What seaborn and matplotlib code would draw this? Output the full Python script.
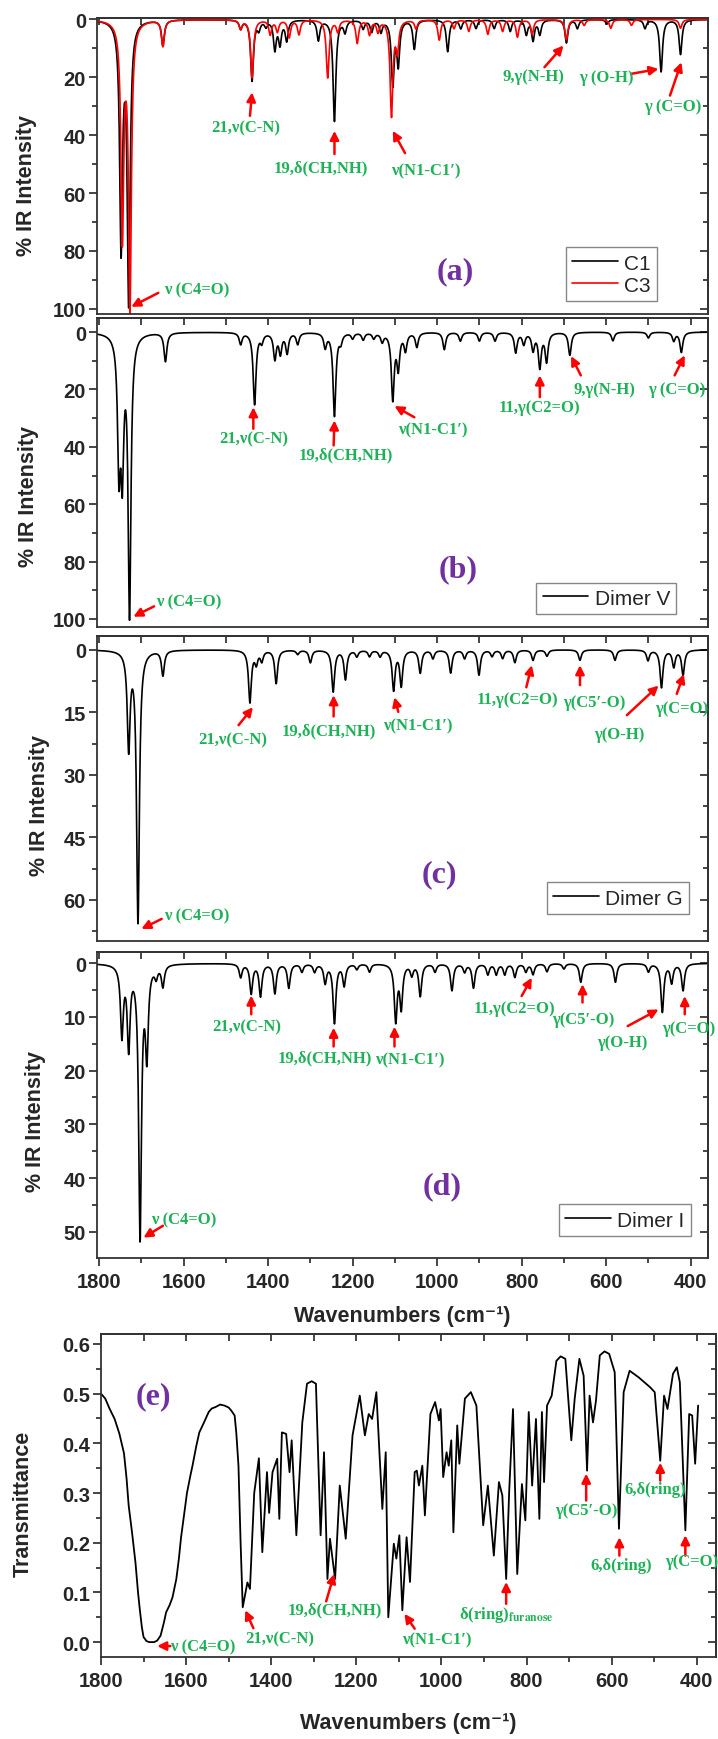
import numpy as np
import pandas as pd
import seaborn as sns
import matplotlib.pyplot as plt
from matplotlib.ticker import MultipleLocator, FormatStrFormatter

sns.set_style('ticks')
plt.rcParams['font.family'] = ['Liberation Sans', 'DejaVu Sans']
plt.rcParams['font.weight'] = 'bold'

GREEN = '#1DB257'
PURPLE = '#7030A0'
SERIF = ['Liberation Serif', 'DejaVu Serif']
FWHM = 8.0

# ---- calculated spectra: peak tables (wavenumber, % intensity)
c1_pos = [1748, 1730, 1649, 1465, 1438, 1422, 1405, 1384, 1372, 1356, 1281, 1243, 1218, 1175, 1155,
          1133, 1105, 1092, 1054, 975, 944, 908, 865, 827, 789, 773, 757, 694, 668, 598, 508, 470, 424]
c1_int = [78, 96, 9, 3, 21, 3, 2, 10, 8, 7, 7, 35, 4, 3, 4,
          4, 22, 15, 10, 11, 3, 3, 3, 4, 5, 7, 5, 8, 3, 1.5, 3, 18, 12]

c3_pos = [1745, 1727, 1649, 1465, 1438, 1395, 1378, 1350, 1327, 1259, 1235, 1189, 1160, 1140, 1108,
          1094, 1050, 995, 960, 925, 880, 845, 810, 775, 694, 652, 589, 540, 424]
c3_int = [74, 98, 9, 3, 20, 5, 4, 6, 5, 20, 4, 8, 5, 4, 33,
          10, 3, 7, 3, 4, 5, 4, 6, 5, 7, 2, 3, 2, 3]

dv_pos = [1753, 1745, 1728, 1643, 1465, 1432, 1415, 1384, 1371, 1355, 1330, 1265, 1243, 1228, 1200,
          1175, 1150, 1130, 1105, 1092, 1075, 1048, 983, 945, 900, 863, 814, 795, 773, 757, 741,
          686, 584, 500, 440, 422]
dv_int = [44, 44, 97, 10, 4, 25, 3, 9, 7, 7, 4, 5, 29, 3, 2,
          2.5, 2, 3, 23, 12, 6, 5, 6, 3, 3, 3, 7, 4, 6, 12, 10,
          8, 3, 2, 3, 7]

dg_pos = [1730, 1708, 1649, 1443, 1428, 1415, 1381, 1330, 1300, 1246, 1217, 1190, 1160, 1135, 1103,
          1085, 1040, 1010, 968, 935, 901, 870, 845, 816, 773, 740, 662, 579, 501, 469, 440, 418]
dg_int = [23, 65, 6, 12.5, 3, 2.5, 8, 1, 3, 10, 7, 1.5, 1.5, 1.5, 9.5,
          8.5, 5.5, 2, 5.5, 2, 6, 1.5, 2, 3, 2.5, 1.5, 2.5, 2.5, 2.5, 9, 4, 6]

di_pos = [1746, 1730, 1703, 1687, 1665, 1649, 1465, 1440, 1418, 1384, 1351, 1320, 1290, 1265, 1243,
          1220, 1190, 1160, 1098, 1085, 1060, 1040, 1005, 965, 935, 914, 880, 860, 840, 816, 790,
          773, 740, 700, 660, 578, 500, 467, 445, 418]
di_int = [13, 15, 50.5, 16, 2, 4, 2.5, 5.5, 6, 5.5, 4.5, 1.5, 1.5, 3.5, 11,
          4, 1, 1.5, 10.5, 8, 2, 6, 1.5, 5, 1.5, 4.5, 2, 2, 2, 2.5, 1.5,
          2, 1.5, 1, 3.5, 3.5, 1.5, 9, 3.5, 5]

# ---- experimental spectrum (e): wavenumber / transmittance
e_wave = [1800, 1790, 1780, 1768, 1757, 1746, 1740, 1735, 1727, 1719, 1713, 1709, 1704, 1700, 1693,
          1687, 1675, 1668, 1660, 1652, 1647, 1639, 1632, 1623, 1617, 1612, 1606, 1598, 1590, 1585,
          1576, 1569, 1558, 1547, 1540, 1531, 1520, 1510, 1500, 1494, 1486, 1482, 1477, 1472, 1467,
          1456, 1450, 1440, 1429, 1421, 1410, 1405, 1397, 1386, 1381, 1375, 1365, 1357, 1352, 1341,
          1327, 1316, 1305, 1295, 1284, 1276, 1268, 1262, 1250, 1239, 1225, 1209, 1192, 1180, 1171,
          1163, 1153, 1139, 1131, 1125, 1112, 1106, 1099, 1092, 1082, 1074, 1063, 1058, 1053, 1045,
          1039, 1026, 1015, 1006, 1002, 996, 988, 983, 977, 972, 963, 958, 945, 931, 918,
          911, 902, 891, 877, 865, 857, 848, 841, 832, 822, 811, 803, 795, 787, 778,
          770, 764, 759, 752, 741, 730, 720, 709, 695, 687, 676, 666, 658, 652, 644,
          637, 628, 617, 606, 593, 583, 572, 558, 537, 510, 499, 486, 477, 469, 456,
          447, 440, 427, 418, 411, 404, 397]
e_trans = [0.50, 0.49, 0.47, 0.449, 0.42, 0.38, 0.33, 0.275, 0.22, 0.16, 0.10, 0.067, 0.03, 0.01, 0.002,
           0.0, 0.0, 0.003, 0.013, 0.04, 0.06, 0.074, 0.09, 0.127, 0.168, 0.21, 0.248, 0.30, 0.335, 0.355,
           0.395, 0.422, 0.442, 0.463, 0.47, 0.473, 0.478, 0.476, 0.472, 0.466, 0.456, 0.42, 0.355, 0.2, 0.07,
           0.12, 0.107, 0.30, 0.37, 0.181, 0.342, 0.26, 0.342, 0.369, 0.248, 0.422, 0.419, 0.342, 0.406, 0.215,
           0.442, 0.52, 0.525, 0.52, 0.215, 0.382, 0.127, 0.208, 0.127, 0.315, 0.208, 0.416, 0.496, 0.416, 0.459,
           0.449, 0.503, 0.268, 0.382, 0.05, 0.198, 0.168, 0.215, 0.064, 0.211, 0.121, 0.342, 0.345, 0.315, 0.355,
           0.255, 0.459, 0.483, 0.446, 0.469, 0.332, 0.382, 0.355, 0.406, 0.221, 0.436, 0.359, 0.49, 0.503, 0.476,
           0.369, 0.235, 0.315, 0.174, 0.322, 0.295, 0.127, 0.302, 0.469, 0.137, 0.318, 0.245, 0.463, 0.315, 0.449,
           0.248, 0.463, 0.322, 0.476, 0.496, 0.566, 0.575, 0.57, 0.406, 0.49, 0.57, 0.536, 0.345, 0.496, 0.442,
           0.486, 0.577, 0.585, 0.58, 0.543, 0.228, 0.503, 0.546, 0.533, 0.513, 0.503, 0.365, 0.496, 0.469, 0.54,
           0.553, 0.523, 0.225, 0.459, 0.456, 0.359, 0.476]

grid = np.arange(350, 1810.5, 0.5)


def broaden(pos, amp, fwhm=FWHM):
    # lorentzian broadening of a stick spectrum (as the calculated spectra are drawn)
    hw = fwhm / 2
    y = np.zeros_like(grid)
    for p, a in zip(pos, amp):
        y += a / (1 + ((grid - p) / hw) ** 2)
    return y


W, H = 718, 1740


def box(l, t, r, b):
    return [l / W, 1 - b / H, (r - l) / W, (b - t) / H]


def style_axes(ax, ymajor, yminor, xlab=False):
    for s in ax.spines.values():
        s.set_color('#333333')
        s.set_linewidth(1.3)
    ax.xaxis.set_major_locator(MultipleLocator(200))
    ax.xaxis.set_minor_locator(MultipleLocator(100))
    ax.yaxis.set_major_locator(MultipleLocator(ymajor))
    ax.yaxis.set_minor_locator(MultipleLocator(yminor))
    ax.tick_params(which='major', direction='out', length=6, width=1.2, labelsize=14.5, pad=2)
    ax.tick_params(axis='x', which='major', pad=4)
    ax.tick_params(which='minor', direction='out', length=3.5, width=1.2)
    if not xlab:
        ax.tick_params(axis='x', which='both', bottom=False, labelbottom=False)
    top = ax.secondary_xaxis('top')
    top.xaxis.set_major_locator(MultipleLocator(100))
    top.tick_params(direction='in', length=5, width=1.2, labeltop=False)
    right = ax.secondary_yaxis('right')
    right.yaxis.set_major_locator(MultipleLocator(ymajor))
    right.yaxis.set_minor_locator(MultipleLocator(yminor))
    right.tick_params(which='major', direction='in', length=6, width=1.2, labelright=False)
    right.tick_params(which='minor', direction='in', length=3.5, width=1.2)
    for sa in (top, right):
        for s in sa.spines.values():
            s.set_color('#333333')
            s.set_linewidth(1.3)
    for lbl in ax.get_xticklabels() + ax.get_yticklabels():
        lbl.set_fontweight('bold')


def annotate(ax, items):
    for label, txt, tail, head in items:
        ax.annotate('', xy=head, xytext=tail,
                    arrowprops=dict(arrowstyle='-|>', color='red', lw=1.8,
                                    mutation_scale=13, shrinkA=0, shrinkB=0))
        ax.text(txt[0], txt[1], label, color=GREEN, fontsize=12, fontweight='bold',
                family=SERIF, ha='center', va='center', math_fontfamily='stix')


def legend(ax, anchor):
    ax.legend(loc='lower right', bbox_to_anchor=anchor, frameon=True, fancybox=False,
              edgecolor='#888888', framealpha=1,
              prop={'family': 'Liberation Sans', 'size': 15, 'weight': 'normal'},
              handlelength=2.2, borderpad=0.3, labelspacing=0.15, handletextpad=0.3,
              borderaxespad=0)


def ylab(ax, text, x, y):
    ax.set_ylabel(text, fontsize=15.5, fontweight='bold')
    ax.yaxis.set_label_coords(x, y)


fig = plt.figure(figsize=(7.18, 17.40), dpi=100)
XLIM = (1805, 359)

# ---------------- (a)
ax = fig.add_axes(box(97, 19, 708, 315))
sns.lineplot(x=grid, y=broaden(c1_pos, c1_int), ax=ax, color='black', lw=1.2, label='C1', estimator=None)
sns.lineplot(x=grid, y=broaden(c3_pos, c3_int), ax=ax, color='red', lw=1.2, label='C3', estimator=None)
ax.set_xlim(*XLIM)
ax.set_ylim(101.8, -0.5)
style_axes(ax, 20, 10)
annotate(ax, [
    ('ν (C4=O)', (1568, 93.3), (1660, 94.5), (1724, 99.3)),
    ('21,ν(C-N)', (1454, 37.3), (1443, 33.3), (1438, 25.2)),
    ('19,δ(CH,NH)', (1276, 51.2), (1243, 46.5), (1243, 38.5)),
    ('ν(N1-C1′)', (1027, 52.3), (1076, 46.2), (1105, 38.5)),
    ('9,γ(N-H)', (773, 19.6), (746, 16.5), (701, 9)),
    ('γ (O-H)', (600, 20), (541, 18.8), (476, 17.1)),
    ('γ (C=O)', (443, 29.8), (449, 26.3), (422, 14.8)),
])
ax.text(957, 87, '(a)', color=PURPLE, fontsize=23, family=SERIF, fontweight='bold', ha='center', va='center')
legend(ax, (0.917, 0.044))
ax.set_xlabel('')
ylab(ax, '% IR Intensity', -0.098, 0.436)

# ---------------- (b)
ax = fig.add_axes(box(97, 319, 708, 628))
sns.lineplot(x=grid, y=broaden(dv_pos, dv_int), ax=ax, color='black', lw=1.2, label='Dimer V', estimator=None)
ax.set_xlim(*XLIM)
ax.set_ylim(102.8, -4.9)
style_axes(ax, 20, 10)
annotate(ax, [
    ('ν (C4=O)', (1589, 94), (1670, 95.6), (1719, 99.2)),
    ('21,ν(C-N)', (1435, 37.2), (1435, 33.7), (1435, 26.2)),
    ('19,δ(CH,NH)', (1216, 42.8), (1245, 39.5), (1243, 30.8)),
    ('ν(N1-C1′)', (1011, 34), (1054, 29.7), (1101, 25.8)),
    ('11,γ(C2=O)', (759, 26.2), (757, 22.7), (757, 15.1)),
    ('9,γ(N-H)', (605, 20), (660, 15.1), (683, 8.4)),
    ('γ (C=O)', (433, 19.8), (438, 15.1), (414, 8.1)),
])
ax.text(951, 82.6, '(b)', color=PURPLE, fontsize=23, family=SERIF, fontweight='bold', ha='center', va='center')
legend(ax, (0.948, 0.042))
ax.set_xlabel('')
ylab(ax, '% IR Intensity', -0.095, 0.424)

# ---------------- (c)
ax = fig.add_axes(box(97, 637, 708, 942))
sns.lineplot(x=grid, y=broaden(dg_pos, dg_int), ax=ax, color='black', lw=1.2, label='Dimer G', estimator=None)
ax.set_xlim(*XLIM)
ax.set_ylim(69.9, -3.3)
style_axes(ax, 15, 7.5)
annotate(ax, [
    ('ν (C4=O)', (1568, 63.7), (1652, 64.6), (1700, 67.0)),
    ('21,ν(C-N)', (1483, 21.4), (1470, 18.1), (1436, 13.8)),
    ('19,δ(CH,NH)', (1256, 19.4), (1245, 16), (1245, 10.9)),
    ('ν(N1-C1′)', (1047, 18.1), (1092, 14.9), (1101, 11.4)),
    ('11,γ(C2=O)', (811, 11.8), (789, 9), (776, 3.7)),
    ('γ(C5′-O)', (629, 12.5), (662, 8.5), (662, 3.7)),
    ('γ(O-H)', (568, 20.2), (551, 15.7), (476, 8.6)),
    ('γ(C=O)', (422, 14.1), (433, 10.6), (416, 5.8)),
])
ax.text(995, 53.8, '(c)', color=PURPLE, fontsize=23, family=SERIF, fontweight='bold', ha='center', va='center')
legend(ax, (0.969, 0.089))
ax.set_xlabel('')
ylab(ax, '% IR Intensity', -0.077, 0.446)

# ---------------- (d)
ax = fig.add_axes(box(97, 953, 708, 1259))
sns.lineplot(x=grid, y=broaden(di_pos, di_int), ax=ax, color='black', lw=1.2, label='Dimer I', estimator=None)
ax.set_xlim(*XLIM)
ax.set_ylim(54.9, -2.1)
style_axes(ax, 10, 5, xlab=True)
annotate(ax, [
    ('ν (C4=O)', (1600, 47.8), (1649, 48.9), (1695, 51.1)),
    ('21,ν(C-N)', (1451, 11.8), (1440, 9.5), (1440, 6)),
    ('19,δ(CH,NH)', (1265, 17.6), (1245, 15.5), (1245, 12)),
    ('ν(N1-C1′)', (1065, 17.9), (1101, 15.5), (1101, 11.8)),
    ('11,γ(C2=O)', (816, 8.25), (800, 6.1), (776, 2.7)),
    ('γ(C5′-O)', (654, 10.4), (656, 7.3), (656, 3.9)),
    ('γ(O-H)', (562, 14.6), (549, 11.7), (476, 8.6)),
    ('γ(C=O)', (405, 12), (414, 9.5), (414, 6.1)),
])
ax.text(989, 41.4, '(d)', color=PURPLE, fontsize=23, family=SERIF, fontweight='bold', ha='center', va='center')
legend(ax, (0.972, 0.072))
ax.set_xlabel('Wavenumbers (cm⁻¹)', fontsize=15.5, fontweight='bold', labelpad=10)
ylab(ax, '% IR Intensity', -0.083, 0.448)

# ---------------- (e)
ax = fig.add_axes(box(101, 1335, 716, 1658))
exp_df = pd.DataFrame({'wave': e_wave, 'trans': e_trans})
sns.lineplot(data=exp_df, x='wave', y='trans', ax=ax, color='black', lw=1.3, estimator=None, sort=False)
ax.set_xlim(1800, 355)
ax.set_ylim(-0.03, 0.62)
style_axes(ax, 0.1, 0.05, xlab=True)
ax.yaxis.set_major_formatter(FormatStrFormatter('%.1f'))
annotate(ax, [
    ('ν (C4=O)', (1560, -0.008), (1637, -0.008), (1668, -0.008)),
    ('21,ν(C-N)', (1381, 0.008), (1442, 0.028), (1461, 0.064)),
    ('19,δ(CH,NH)', (1250, 0.066), (1271, 0.082), (1252, 0.137)),
    ('ν(N1-C1′)', (1010, 0.005), (1063, 0.027), (1087, 0.057)),
    ('δ(ring)$_{\\mathrm{furanose}}$', (848, 0.057), (848, 0.077), (848, 0.121)),
    ('γ(C5′-O)', (660, 0.265), (660, 0.285), (660, 0.339)),
    ('6,δ(ring)', (577, 0.156), (582, 0.174), (582, 0.211)),
    ('6,δ(ring)', (497, 0.308), (486, 0.325), (486, 0.361)),
    ('γ(C=O)', (411, 0.164), (427, 0.174), (427, 0.215)),
])
ax.text(1676, 0.496, '(e)', color=PURPLE, fontsize=23, family=SERIF, fontweight='bold', ha='center', va='center')
ax.set_xlabel('Wavenumbers (cm⁻¹)', fontsize=15.5, fontweight='bold', labelpad=16)
ylab(ax, 'Transmittance', -0.109, 0.477)

fig.savefig('out.png', dpi=100)
